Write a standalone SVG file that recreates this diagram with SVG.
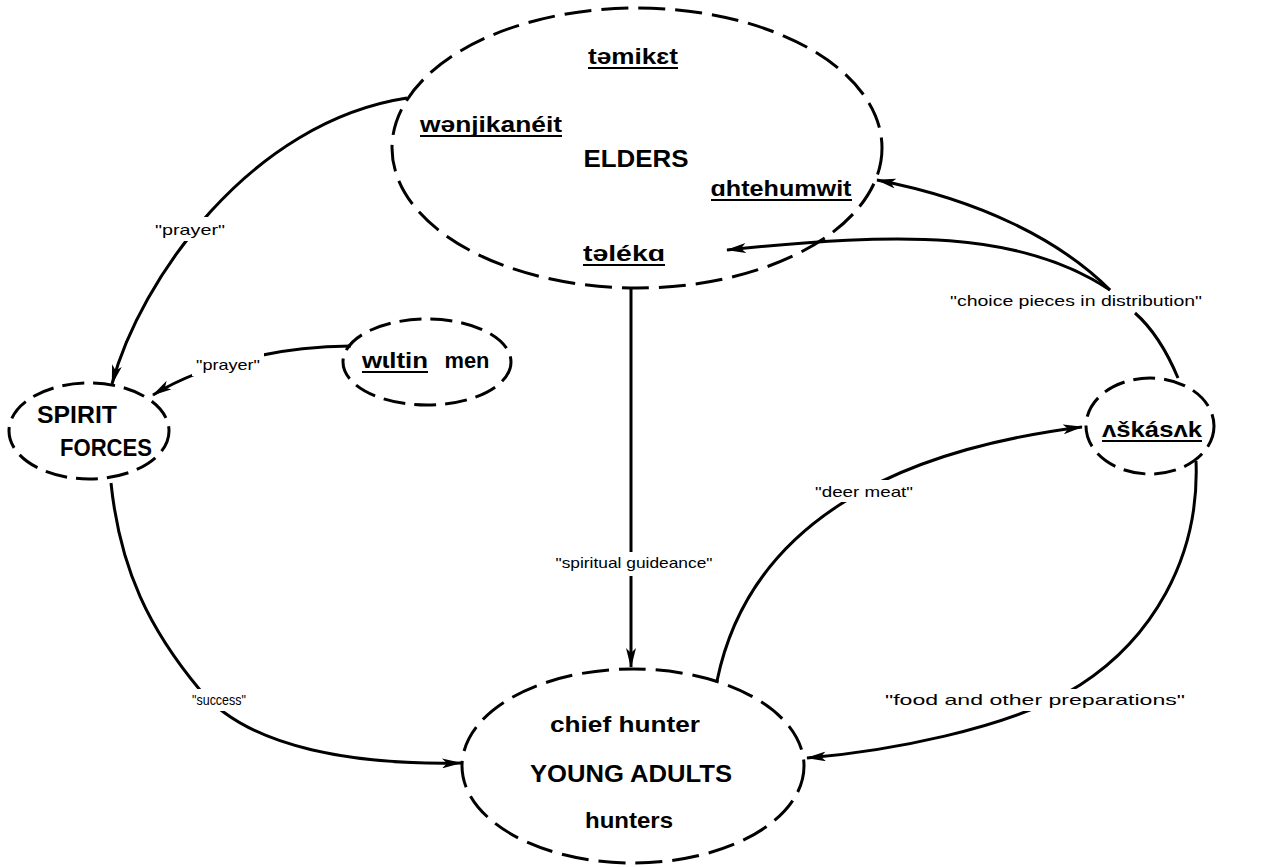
<svg xmlns="http://www.w3.org/2000/svg" width="1267" height="867" viewBox="0 0 1267 867">
<style>
.node{fill:none;stroke:#000;stroke-width:3;stroke-dasharray:27 10}
.small{stroke-dasharray:22 9}
.t{font-family:"Liberation Sans",Arial,sans-serif;font-weight:bold;fill:#000;text-anchor:middle}
.lc{font-size:22px}
.uc{font-size:24px}
.ul{stroke:#000;stroke-width:2.2}
.c{fill:none;stroke:#000;stroke-width:3;marker-end:url(#ah)}
.cn{fill:none;stroke:#000;stroke-width:3}
.lab{font-family:"Liberation Sans",Arial,sans-serif;font-size:15px;fill:#000;text-anchor:middle}
.bg{fill:#fff}
</style>
<defs>
<marker id="ah" viewBox="0 0 20 10" refX="19" refY="5" markerWidth="20" markerHeight="10" markerUnits="userSpaceOnUse" orient="auto">
<path d="M0,0 L20,5 L0,10 L5,5 z" fill="#000"/>
</marker>
</defs>
<rect width="1267" height="867" fill="#fff"/>

<g id="connectors">
<path class="c" d="M407,98 C250,122 140,280 112,384"/>
<path class="c" d="M351,346 C290,346 210,360 153,395"/>
<path class="c" d="M631,289 L631,667"/>
<path class="c" d="M111,483 C120,570 150,630 200,690 C250,750 360,765 461,763"/>
<path class="c" d="M717,681 C750,520 900,450 1082,427"/>
<path class="c" d="M1110,290 C1060,240 980,200 877,180"/>
<path class="c" d="M1110,290 C1020,230 900,232 727,250"/>
<path class="cn" d="M1178,378 Q1160,335 1135,313"/>
<path class="c" d="M1196,461 C1200,560 1150,640 1080,685 C1010,730 880,752 807,758"/>

<rect class="bg" x="150" y="217" width="80" height="24"/>
<text class="lab" x="190" y="235" textLength="70" lengthAdjust="spacingAndGlyphs">"prayer"</text>
<rect class="bg" x="192" y="352" width="72" height="24"/>
<text class="lab" x="228" y="370" textLength="64" lengthAdjust="spacingAndGlyphs">"prayer"</text>
<rect class="bg" x="552" y="552" width="164" height="24"/>
<text class="lab" x="634" y="568" textLength="157" lengthAdjust="spacingAndGlyphs">"spiritual guideance"</text>
<rect class="bg" x="812" y="480" width="104" height="22"/>
<text class="lab" x="864" y="497" textLength="98" lengthAdjust="spacingAndGlyphs">"deer meat"</text>
<rect class="bg" x="189" y="689" width="60" height="22"/>
<text class="lab" x="219" y="705" textLength="54" lengthAdjust="spacingAndGlyphs">"success"</text>
<rect class="bg" x="880" y="689" width="310" height="22"/>
<text class="lab" x="1035" y="705" textLength="300" lengthAdjust="spacingAndGlyphs">"food and other preparations"</text>
<text class="lab" x="1076" y="306" textLength="252" lengthAdjust="spacingAndGlyphs">"choice pieces in distribution"</text>
</g>

<g id="elders">
<ellipse class="node" cx="637" cy="148" rx="245" ry="140"/>
<text class="t lc" x="633" y="64" textLength="90" lengthAdjust="spacingAndGlyphs">təmikɛt</text>
<line class="ul" x1="588" y1="68" x2="678" y2="68"/>
<text class="t lc" x="491" y="132" textLength="142" lengthAdjust="spacingAndGlyphs">wənjikanéit</text>
<line class="ul" x1="420" y1="136" x2="562" y2="136"/>
<text class="t uc" x="636" y="167" textLength="105" lengthAdjust="spacingAndGlyphs">ELDERS</text>
<text class="t lc" x="781" y="196" textLength="141" lengthAdjust="spacingAndGlyphs">ɑhtehumwit</text>
<line class="ul" x1="711" y1="200" x2="852" y2="200"/>
<text class="t lc" x="624" y="261" textLength="82" lengthAdjust="spacingAndGlyphs">təlékɑ</text>
<line class="ul" x1="583" y1="265" x2="665" y2="265"/>
</g>

<g id="spirit-forces">
<ellipse class="node small" cx="89" cy="431" rx="80" ry="48"/>
<text class="t uc" x="77" y="423" textLength="80" lengthAdjust="spacingAndGlyphs">SPIRIT</text>
<text class="t uc" x="106" y="456" textLength="92" lengthAdjust="spacingAndGlyphs">FORCES</text>
</g>

<g id="wiltin-men">
<ellipse class="node small" cx="427" cy="362" rx="84" ry="43"/>
<text class="t lc" x="395" y="368" textLength="66" lengthAdjust="spacingAndGlyphs">wɩltin</text>
<line class="ul" x1="362" y1="372" x2="428" y2="372"/>
<text class="t lc" x="467" y="368" textLength="45" lengthAdjust="spacingAndGlyphs">men</text>
</g>

<g id="askasak">
<ellipse class="node small" cx="1150" cy="426" rx="64" ry="48"/>
<text class="t lc" x="1152" y="437" textLength="100" lengthAdjust="spacingAndGlyphs">ʌškásʌk</text>
<line class="ul" x1="1102" y1="441" x2="1202" y2="441"/>
</g>

<g id="young-adults">
<ellipse class="node" cx="633" cy="766" rx="171" ry="97"/>
<text class="t lc" x="625" y="732" textLength="150" lengthAdjust="spacingAndGlyphs">chief hunter</text>
<text class="t uc" x="631" y="782" textLength="202" lengthAdjust="spacingAndGlyphs">YOUNG ADULTS</text>
<text class="t lc" x="629" y="828" textLength="88" lengthAdjust="spacingAndGlyphs">hunters</text>
</g>
</svg>
